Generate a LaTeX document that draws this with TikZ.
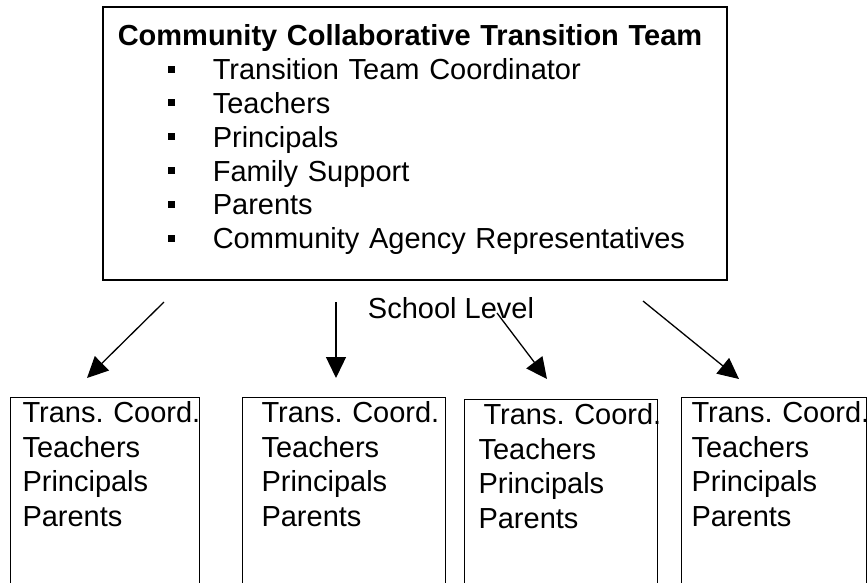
\documentclass[tikz,border=0pt]{standalone}
\usepackage{fontspec}
\setmainfont{Liberation Sans}
\usetikzlibrary{positioning,arrows.meta}
\frenchspacing

\newcommand{\teamitem}{\hspace*{50pt}\rule[7pt]{7pt}{7pt}\hspace{38pt}}

\begin{document}
\begin{tikzpicture}[x=1pt, y=-1pt,
    font=\fontsize{29}{33.8}\selectfont,
    station/.style={draw, line width=1pt, anchor=north west, align=left,
      font=\fontsize{29}{34.5}\selectfont,
      text width=165pt, inner ysep=4pt, text depth=200pt},
    feed/.style={-{Triangle[length=21pt,width=20pt]}, line width=1.3pt}]

    % page is 867 x 582, y runs downwards
    \useasboundingbox (0,0) rectangle (867,582);
    \clip (0,0) rectangle (867,582);

    \node [
      draw, line width=1.6pt, anchor=north west, align=left,
      text width=594pt, inner xsep=15pt, inner ysep=18pt, text depth=216pt
    ] (team) at (102,6)
      {
        \textbf{Community Collaborative Transition Team}\\
        \teamitem Transition Team Coordinator\\
        \teamitem Teachers\\
        \teamitem Principals\\
        \teamitem Family Support\\
        \teamitem Parents\\
        \teamitem Community Agency Representatives
      };

    \node (level) at (451,308) {School Level};

    \node [station, inner xsep=12pt] (s1) at (10,397)
      {\mbox{Trans. Coord.}\\Teachers\\Principals\\Parents};
    \node [station, inner xsep=19pt] (s2) at (242,397)
      {\mbox{Trans. Coord.}\\Teachers\\Principals\\Parents};
    \node [station, inner xsep=14pt] (s3) at (464,399)
      {\hspace*{5pt}\mbox{Trans. Coord.}\\Teachers\\Principals\\Parents};
    \node [station, inner xsep=10pt] (s4) at (681,397)
      {\mbox{Trans. Coord.}\\Teachers\\Principals\\Parents};

    \coordinate (f1) at (164,302);
    \coordinate (t1) at (87,378);
    \coordinate (f2) at (336,302);
    \coordinate (t2) at (336,378);
    \coordinate (f3) at (497,313);
    \coordinate (t3) at (547,379);
    \coordinate (f4) at (643,301);
    \coordinate (t4) at (739,379);

    \draw [feed] (f1) -- (t1);
    \draw [feed] (f2) -- (t2);
    \draw [feed] (f3) -- (t3);
    \draw [feed] (f4) -- (t4);

\end{tikzpicture}
\end{document}
